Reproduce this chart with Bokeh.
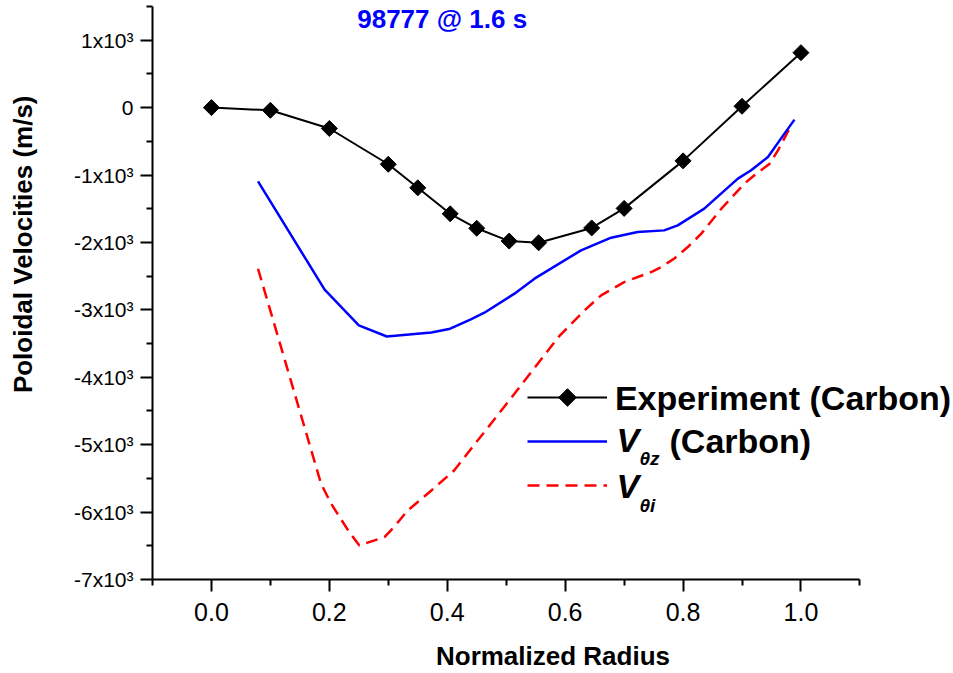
import numpy as np
from bokeh.plotting import figure
from bokeh.layouts import row
from bokeh.models import (ColumnDataSource, Label, Legend, LegendItem, FixedTicker, Range1d)
from bokeh.embed import file_html
from bokeh.resources import INLINE

# ---------------- data ----------------
exp_r = [0.0, 0.1, 0.2, 0.3, 0.35, 0.405, 0.45, 0.505, 0.555, 0.645, 0.70, 0.80, 0.90, 1.0]
exp_v = [0, -40, -310, -840, -1190, -1575, -1790, -1980, -2005, -1785, -1495, -790, 20, 815]

vz_r = [0.079, 0.192, 0.25, 0.2975, 0.373, 0.405, 0.44, 0.463, 0.514, 0.548, 0.627,
        0.678, 0.723, 0.768, 0.791, 0.836, 0.893, 0.9155, 0.944, 0.966, 0.989]
vz_v = [-1095, -2700, -3230, -3395, -3335, -3280, -3140, -3042, -2760, -2537, -2117,
        -1929, -1845, -1821, -1746, -1499, -1053, -930, -733, -460, -178]

vi_r = [0.079, 0.186, 0.203, 0.234, 0.251, 0.2935, 0.31, 0.333, 0.373, 0.412, 0.446,
        0.514, 0.59, 0.633, 0.661, 0.70, 0.746, 0.763, 0.785, 0.808, 0.831, 0.865,
        0.904, 0.921, 0.947, 0.961, 0.982]
vi_v = [-2390, -5580, -5875, -6300, -6495, -6370, -6220, -5975, -5680, -5380, -5000,
        -4245, -3390, -3007, -2785, -2588, -2439, -2365, -2240, -2068, -1869, -1499,
        -1128, -1004, -831, -634, -288]

x_ticks = [0.0, 0.2, 0.4, 0.6, 0.8, 1.0]
x_tick_labels = ["0.0", "0.2", "0.4", "0.6", "0.8", "1.0"]
x_minor = [-0.1, 0.1, 0.3, 0.5, 0.7, 0.9, 1.1]
y_ticks = [-7000, -6000, -5000, -4000, -3000, -2000, -1000, 0, 1000]
y_tick_labels = ["-7x10\u00b3", "-6x10\u00b3", "-5x10\u00b3", "-4x10\u00b3", "-3x10\u00b3",
                 "-2x10\u00b3", "-1x10\u00b3", "0", "1x10\u00b3"]
y_minor = [-6500, -5500, -4500, -3500, -2500, -1500, -500, 500, 1500]

title_text = "98777 @ 1.6 s"
x_title = "Normalized Radius"
y_title = "Poloidal Velocities (m/s)"

FONT = "Liberation Sans"
LEFT_W = 60          # width of the strip holding the y-axis title
FRAME_LEFT = 152     # page x of the plot frame's left edge
PX_PER_UNIT = 589.5  # horizontal scale (px per unit radius)
BORDER_TOP, BORDER_BOTTOM = 6, 94

# ---------------- y-title strip ----------------
ytit = figure(width=LEFT_W, height=673, x_axis_type=None, y_axis_type=None,
              toolbar_location=None, output_backend="svg", min_border=0,
              min_border_top=BORDER_TOP, min_border_bottom=BORDER_BOTTOM,
              x_range=Range1d(0, 1), y_range=Range1d(0, 1))
ytit.outline_line_color = None
ytit.grid.visible = False
ytit.add_layout(Label(x=22, y=(673 - BORDER_BOTTOM) - 243.8, x_units="screen", y_units="screen",
                      text=y_title, text_font=FONT, text_font_size="26px",
                      text_font_style="bold", text_color="black", text_align="center",
                      text_baseline="middle", angle=np.pi / 2))

# ---------------- main figure ----------------
main_w = 953 - LEFT_W
x_end = -0.1 + (953 - FRAME_LEFT) / PX_PER_UNIT
p = figure(width=main_w, height=673, x_range=Range1d(-0.1, x_end), y_range=Range1d(-7000, 1500),
           output_backend="svg", toolbar_location=None,
           min_border_left=FRAME_LEFT - LEFT_W, min_border_right=0,
           min_border_top=BORDER_TOP, min_border_bottom=BORDER_BOTTOM)
p.outline_line_color = None
p.grid.visible = False

for ax in (p.xaxis[0], p.yaxis[0]):
    ax.axis_line_width = 2
    ax.major_tick_line_width = 2
    ax.minor_tick_line_width = 2
    ax.major_tick_in = 0
    ax.major_tick_out = 12
    ax.minor_tick_in = 0
    ax.minor_tick_out = 6
    ax.major_label_text_font = FONT
    ax.major_label_text_color = "black"
    ax.axis_line_color = "black"
    ax.major_tick_line_color = "black"
    ax.minor_tick_line_color = "black"

p.xaxis[0].bounds = (-0.1, 1.1)
p.xaxis[0].ticker = FixedTicker(ticks=x_ticks, minor_ticks=x_minor)
p.xaxis[0].major_label_overrides = {t: l for t, l in zip(x_ticks, x_tick_labels)}
p.xaxis[0].major_label_text_font_size = "25px"
p.xaxis[0].major_label_standoff = 11
p.xaxis[0].axis_label = x_title
p.xaxis[0].axis_label_text_font = FONT
p.xaxis[0].axis_label_text_font_style = "bold"
p.xaxis[0].axis_label_text_font_size = "26px"
p.xaxis[0].axis_label_text_color = "black"
p.xaxis[0].axis_label_standoff = 17

p.yaxis[0].ticker = FixedTicker(ticks=y_ticks, minor_ticks=y_minor)
p.yaxis[0].major_label_overrides = {t: l for t, l in zip(y_ticks, y_tick_labels)}
p.yaxis[0].major_label_text_font_size = "21px"
p.yaxis[0].major_label_standoff = 7

# ---------------- series ----------------
src_exp = ColumnDataSource(dict(x=exp_r, y=exp_v))
src_vz = ColumnDataSource(dict(x=vz_r, y=vz_v))
src_vi = ColumnDataSource(dict(x=vi_r, y=vi_v))

r_vi = p.line("x", "y", source=src_vi, line_color="#FF0000", line_width=2.5, line_dash="12 7")
r_vz = p.line("x", "y", source=src_vz, line_color="#0000FF", line_width=2.5)
r_exp_line = p.line("x", "y", source=src_exp, line_color="black", line_width=2)
r_exp_pts = p.ngon(x="x", y="y", source=src_exp, radius=8, radius_units="screen", n=4,
                   fill_color="black", line_color="black")

legend = Legend(items=[
    LegendItem(label=" ", renderers=[r_exp_line, r_exp_pts]),
    LegendItem(label=" ", renderers=[r_vz]),
    LegendItem(label=" ", renderers=[r_vi]),
], location=(375, 72))
legend.border_line_color = None
legend.background_fill_alpha = 0
legend.padding = 0
legend.margin = 0
legend.spacing = 0
legend.glyph_width = 80
legend.glyph_height = 44
legend.label_height = 44
legend.label_standoff = 8
legend.label_text_font_size = "10px"
p.add_layout(legend, "center")

# ---------------- texts (screen px from frame bottom-left; y = cap centre) ----------------
def lab(text, x, y, size, style="bold", color="black", align="left"):
    p.add_layout(Label(x=x, y=y, x_units="screen", y_units="screen", text=text,
                       text_font=FONT, text_font_size=size, text_font_style=style,
                       text_color=color, text_align=align, text_baseline="middle"))

lab(title_text, 289.7, 560.2, "26px", color="#0000FF", align="center")
lab("Experiment (Carbon)", 462.4, 182, "34px")
lab("V", 464, 139.2, "34px", style="bold italic")
lab("\u03b8z", 487, 120.8, "19px", style="bold italic")
lab("(Carbon)", 517, 138.8, "34px")
lab("V", 464, 94, "34px", style="bold italic")
lab("\u03b8i", 487, 74.1, "19px", style="bold italic")

layout = row(ytit, p)
open("out.html", "w").write(file_html(layout, INLINE))
